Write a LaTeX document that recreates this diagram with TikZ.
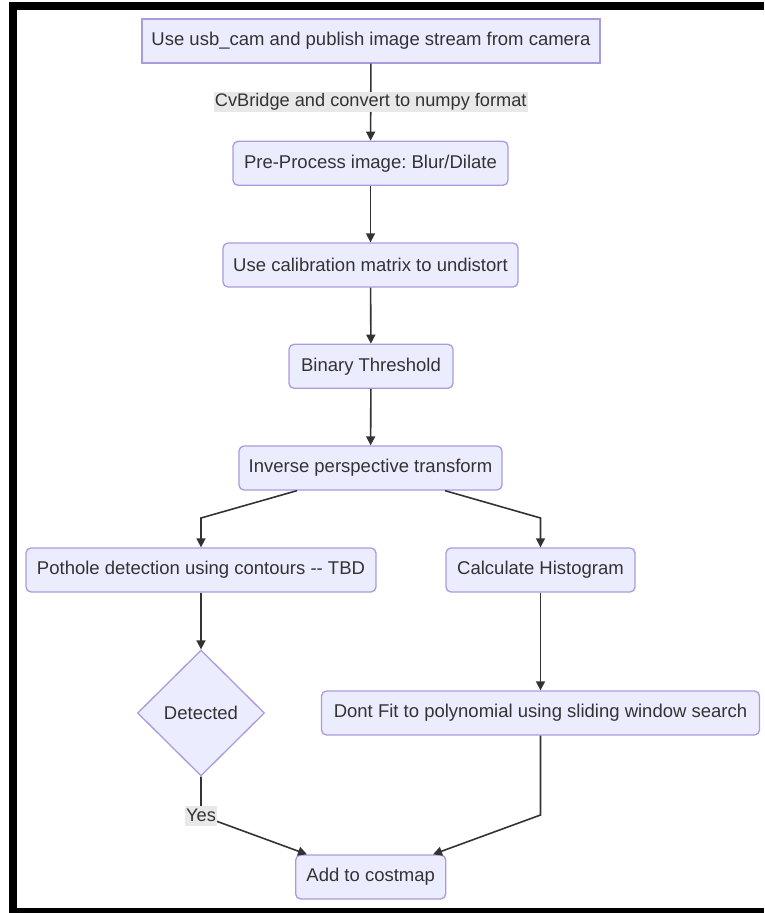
\documentclass[tikz,border=0pt]{standalone}
\usepackage{fontspec}
\setmainfont{Liberation Sans}
\usetikzlibrary{arrows.meta,shapes.geometric}
\definecolor{nodefill}{HTML}{ECECFF}
\definecolor{nodeline}{HTML}{A99BDD}
\definecolor{txt}{HTML}{333333}
\definecolor{lblbg}{HTML}{E8E8E8}
\frenchspacing
\begin{document}
\begin{tikzpicture}[x=1pt,y=-1pt,
  box/.style={draw=nodeline,fill=nodefill,line width=1.3pt,rounded corners=5pt,
    inner sep=0pt,minimum height=44pt,text=txt,align=center,
    font=\fontsize{18.5}{22}\selectfont},
  sharpbox/.style={box,rounded corners=0pt},
  decision/.style={draw=nodeline,fill=nodefill,line width=1.3pt,shape=diamond,
    inner sep=0pt,minimum width=127pt,minimum height=126pt,text=txt,
    font=\fontsize{18.5}{22}\selectfont},
  elabel/.style={fill=lblbg,text=txt,inner xsep=1pt,inner ysep=0pt,minimum height=20pt,
    font=\fontsize{18.2}{22}\selectfont},
  arr/.style={draw=txt,line width=1.6pt,-{Triangle[length=9pt,width=9pt]}},
  conn/.style={draw=txt,line width=1.6pt}]
\useasboundingbox (0,0) rectangle (764,913);
% frame
\fill[black] (9,2) rectangle (764,10);
\fill[black] (9,2) rectangle (17,913);
\fill[black] (9,908) rectangle (764,913);
% nodes
\node[sharpbox,minimum width=458pt] (n1) at (371,41) {Use usb\_cam and publish image stream from camera};
\node[box,minimum width=275pt] (n2) at (370.5,163.3) {Pre-Process image: Blur/Dilate};
\node[box,minimum width=295pt] (n3) at (370.5,265) {Use calibration matrix to undistort};
\node[box,minimum width=164pt] (n4) at (371,366.3) {Binary Threshold};
\node[box,minimum width=263pt] (n5) at (370.5,468) {Inverse perspective transform};
\node[box,minimum width=350pt] (n6) at (201,570) {Pothole detection using contours -{}- TBD};
\node[box,minimum width=189pt] (n7) at (540.5,570) {Calculate Histogram};
\node[decision] (d) at (201,713) {Detected};
\node[box,minimum width=438pt] (n8) at (540.5,713) {Dont Fit to polynomial using sliding window search};
\node[box,minimum width=150pt] (n9) at (370.7,877) {Add to costmap};
% bend points
\coordinate (bl) at (201,518);
\coordinate (br) at (540.5,518);
\coordinate (yb) at (201,815.5);
\coordinate (rb) at (540.5,815);
% edges
\draw[arr] (n1) -- (n2) node[elabel,midway] {CvBridge and convert to numpy format};
\draw[arr] (n2) -- (n3);
\draw[arr] (n3) -- (n4);
\draw[arr] (n4) -- (n5);
\draw[arr] ([xshift=-73.5pt]n5.south) -- (bl) -- (bl |- n6.north);
\draw[arr] ([xshift=74.5pt]n5.south) -- (br) -- (br |- n7.north);
\draw[arr] (n6) -- (d);
\draw[arr] (n7) -- (n8);
\draw[arr] (d.south) -- (yb) -- ([xshift=-63.7pt]n9.north);
\draw[arr] (n8.south) -- (rb) -- ([xshift=62.3pt]n9.north);
\node[elabel] (yes) at (yb) {Yes};
\end{tikzpicture}
\end{document}
